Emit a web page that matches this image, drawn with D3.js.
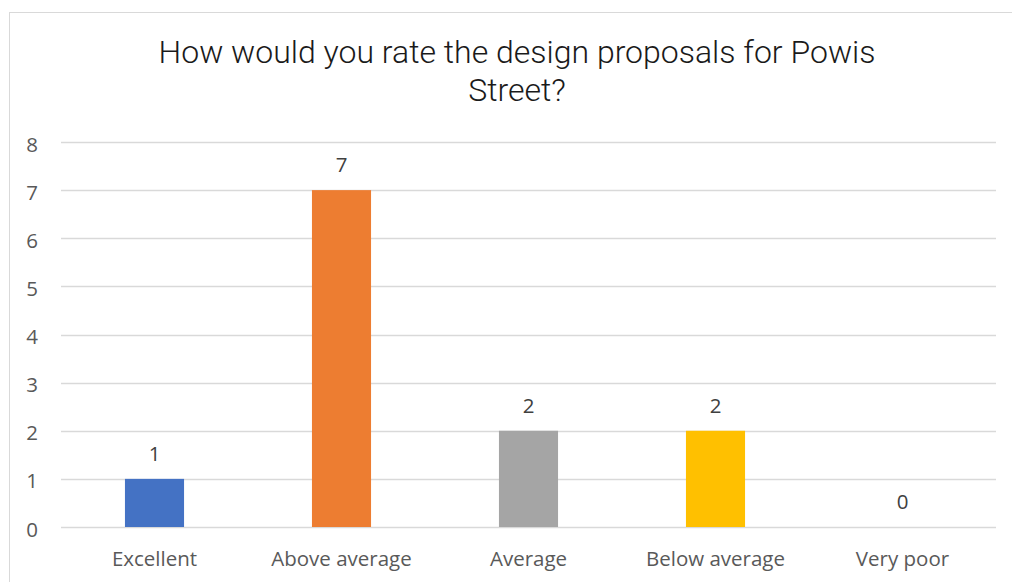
<!DOCTYPE html>
<html>
<head>
<meta charset="utf-8">
<script src="https://cdn.jsdelivr.net/npm/d3@7"></script>
<style>
  html, body { margin: 0; padding: 0; background: #fff; }
  svg { display: block; }
</style>
</head>
<body>
<svg id="chart" width="1012" height="582"></svg>
<script>
// Survey responses
const categories = ["Excellent", "Above average", "Average", "Below average", "Very poor"];
const counts = [1, 7, 2, 2, 0];
const barColors = ["#4472C4", "#ED7D31", "#A5A5A5", "#FFC000", "#5B9BD5"];
const yTicks = [0, 1, 2, 3, 4, 5, 6, 7, 8];
const titleLines = ["How would you rate the design proposals for Powis", "Street?"];

const svg = d3.select("#chart");
const plot = { left: 61, right: 996, top: 142, bottom: 527 };
const labelFont = "'Open Sans', 'Liberation Sans', sans-serif";
const labelSize = 20.5;

// chart frame
svg.append("rect")
  .attr("x", 9.5).attr("y", 12.5)
  .attr("width", 1030).attr("height", 600)
  .attr("fill", "#fff").attr("stroke", "#d9d9d9").attr("stroke-width", 1);

// title
svg.append("text")
  .attr("x", 517).attr("y", 63)
  .attr("text-anchor", "middle")
  .attr("font-family", "Roboto, sans-serif")
  .attr("font-weight", 300)
  .attr("font-size", 32)
  .attr("fill", "#1a1a1a")
  .selectAll("tspan").data(titleLines).join("tspan")
  .attr("x", 517).attr("dy", (d, i) => i === 0 ? 0 : 38)
  .text(d => d);

const x = d3.scaleBand().domain(categories).range([plot.left, plot.right]).paddingInner(0.684).paddingOuter(0.342);
const y = d3.scaleLinear().domain([0, 8]).range([plot.bottom, plot.top]);

// gridlines
svg.append("g").selectAll("line").data(yTicks).join("line")
  .attr("x1", plot.left).attr("x2", plot.right)
  .attr("y1", d => Math.round(y(d)) + 0.5).attr("y2", d => Math.round(y(d)) + 0.5)
  .attr("stroke", "#d9d9d9").attr("stroke-width", 1.3);

// y axis labels
const yAxis = d3.axisLeft(y).tickValues(yTicks).tickSize(0).tickPadding(0).tickFormat(d3.format("d"));
const gy = svg.append("g").attr("transform", "translate(38,0)").call(yAxis);
gy.select(".domain").remove();
gy.selectAll("text")
  .attr("font-family", labelFont).attr("font-size", labelSize).attr("fill", "#595959")
  .attr("dy", null).attr("y", 9);

// bars
svg.append("g").selectAll("rect").data(counts).join("rect")
  .attr("x", (d, i) => x(categories[i]))
  .attr("width", x.bandwidth())
  .attr("y", d => y(d))
  .attr("height", d => y(0) - y(d))
  .attr("fill", (d, i) => barColors[i]);

// value labels
svg.append("g").selectAll("text").data(counts).join("text")
  .attr("x", (d, i) => x(categories[i]) + x.bandwidth() / 2)
  .attr("y", d => y(d) - 18)
  .attr("text-anchor", "middle")
  .attr("font-family", labelFont).attr("font-size", labelSize).attr("fill", "#404040")
  .text(d => d);

// x axis labels
const xAxis = d3.axisBottom(x).tickSize(0).tickPadding(0);
const gx = svg.append("g").attr("transform", `translate(0,${plot.bottom})`).call(xAxis);
gx.select(".domain").remove();
gx.selectAll("text")
  .attr("font-family", labelFont).attr("font-size", labelSize).attr("fill", "#595959")
  .attr("dy", null).attr("y", 39);
</script>
</body>
</html>
